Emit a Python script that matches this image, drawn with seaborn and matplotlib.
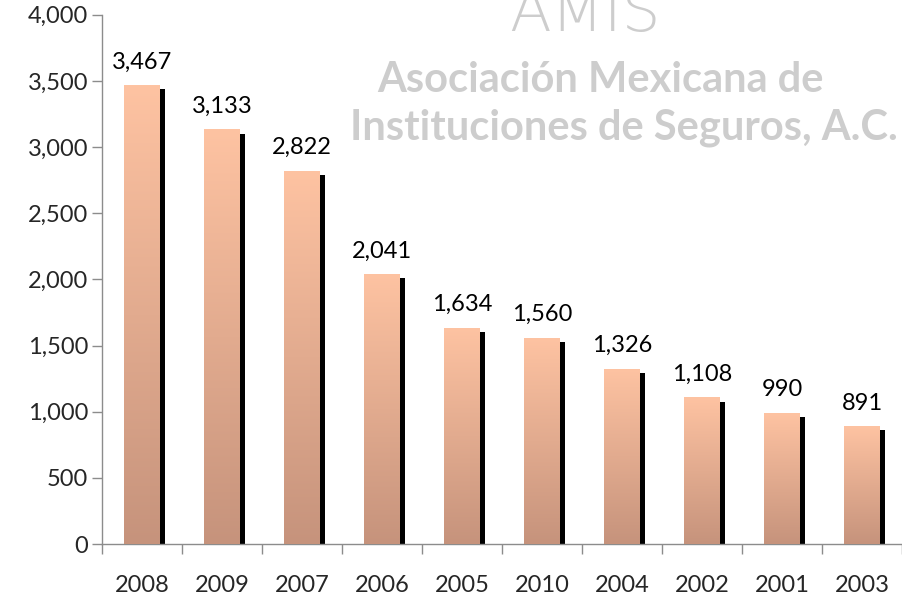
import seaborn as sns
import matplotlib.pyplot as plt
import matplotlib.patheffects as pe
from matplotlib.colors import LinearSegmentedColormap
from matplotlib.ticker import FuncFormatter, FixedLocator
import numpy as np
import pandas as pd

years = ['2008', '2009', '2007', '2006', '2005', '2010', '2004', '2002', '2001', '2003']
values = [3467, 3133, 2822, 2041, 1634, 1560, 1326, 1108, 990, 891]

df = pd.DataFrame({'year': years, 'value': values})

sns.set_style('white')
plt.rcParams['font.family'] = ['Lato', 'DejaVu Sans']

fig = plt.figure(figsize=(9.03, 5.98), dpi=100)
ax = fig.add_axes([0.113, 0.0903, 0.886, 0.885])

sns.barplot(data=df, x='year', y='value', color='#FDC1A0', width=0.44,
            saturation=1, ax=ax, zorder=2)

# bar gradient (peach top -> brownish bottom) + black drop shadow
cmap = LinearSegmentedColormap.from_list('bar', ['#C6937C', '#FEC3A2'])
grad = np.linspace(0, 1, 256).reshape(-1, 1)
for p in ax.patches:
    x0, w, h = p.get_x(), p.get_width(), p.get_height()
    p.set_facecolor('none')
    p.set_edgecolor('none')
    p.set_path_effects([pe.SimplePatchShadow(offset=(4, -3), shadow_rgbFace='black', alpha=1.0)])
    im = ax.imshow(grad, cmap=cmap, extent=[x0, x0 + w, 0, h], origin='lower',
                   aspect='auto', zorder=3)
    im.set_clip_path(p)
    ax.text(x0 + w / 2, h + 95, f'{int(h):,}', ha='center', va='bottom',
            fontsize=17, color='black', zorder=4)

ax.set_xlim(-0.5, len(years) - 0.5)
ax.set_ylim(0, 4000)
ax.set_yticks(np.arange(0, 4001, 500))
ax.yaxis.set_major_formatter(FuncFormatter(lambda v, _: f'{int(v):,}'))
ax.set_xlabel('')
ax.set_ylabel('')

# ticks between categories, labels centred
ax.set_xticks(np.arange(len(years)))
ax.set_xticklabels(years)
ax.xaxis.set_minor_locator(FixedLocator(np.arange(-0.5, len(years), 1)))
ax.tick_params(axis='x', which='major', length=0, pad=22, labelsize=17)
ax.tick_params(axis='x', which='minor', length=7, color='#8C8C8C', width=1, direction='out', bottom=True)
ax.tick_params(axis='y', length=7, color='#8C8C8C', width=1, direction='out', left=True, labelsize=17, pad=3)

for s in ['top', 'right']:
    ax.spines[s].set_visible(False)
for s in ['left', 'bottom']:
    ax.spines[s].set_color('#8C8C8C')
    ax.spines[s].set_linewidth(1)

# watermark
wm = '#CDCDCD'
fig.text(0.648, 0.975, 'AMIS', ha='center', va='center', fontsize=44, color=wm,
         family='DejaVu Sans', fontweight='ultralight', zorder=0)
fig.text(0.665, 0.866, 'Asociación Mexicana de', ha='center', va='center', fontsize=30,
         color=wm, fontweight='bold', family=['Lato', 'DejaVu Sans'], zorder=0)
fig.text(0.691, 0.787, 'Instituciones de Seguros, A.C.', ha='center', va='center', fontsize=30,
         color=wm, fontweight='bold', family=['Lato', 'DejaVu Sans'], zorder=0)

fig.savefig('out.png', dpi=100)
